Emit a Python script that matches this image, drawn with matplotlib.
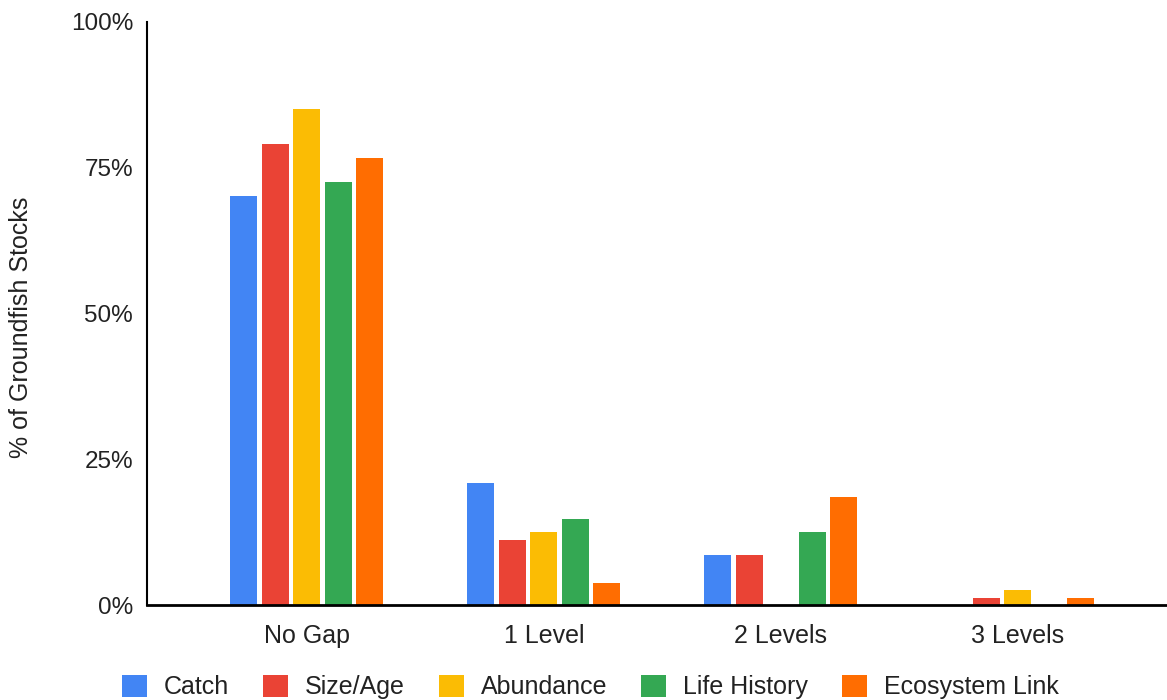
import numpy as np
import matplotlib
matplotlib.use("Agg")
from matplotlib import pyplot as plt
from matplotlib.patches import Patch

plt.rcParams['font.family'] = ['Liberation Sans', 'DejaVu Sans']

# gap categories and share of stocks (%) per data type
categories = ["No Gap", "1 Level", "2 Levels", "3 Levels"]
catch = [70.1, 21.0, 8.5, 0.0]
size_age = [79.0, 11.1, 8.5, 1.2]
abundance = [85.1, 12.5, 0.0, 2.6]
life_history = [72.6, 14.7, 12.5, 0.0]
ecosystem_link = [76.6, 3.8, 18.6, 1.2]

series_names = ["Catch", "Size/Age", "Abundance", "Life History", "Ecosystem Link"]
series = [catch, size_age, abundance, life_history, ecosystem_link]
colors = ["#4285F4", "#EA4335", "#FBBC04", "#34A853", "#FF6D01"]

fig = plt.figure(figsize=(11.67, 7), dpi=100)
ax = fig.add_axes([0.126, 0.1357, 0.874, 0.8329])

x = np.arange(len(categories))
pitch = 0.133
width = 0.114
for i, (vals, col) in enumerate(zip(series, colors)):
    ax.bar(x + (i - 2) * pitch, vals, width, color=col, zorder=2)

ax.set_ylim(0, 100)
ax.set_xlim(-0.675, 3.63)
ax.set_yticks([0, 25, 50, 75, 100])
ax.set_yticklabels(["0%", "25%", "50%", "75%", "100%"])
ax.set_xticks(x)
ax.set_xticklabels(categories)
ax.tick_params(axis='both', length=0, colors='#222222')
ax.tick_params(axis='x', pad=14, labelsize=18)
ax.tick_params(axis='y', pad=10, labelsize=17.5)
for s in ["top", "right"]:
    ax.spines[s].set_visible(False)
ax.spines["left"].set_linewidth(1.5)
ax.spines["bottom"].set_linewidth(2)
ax.spines["bottom"].set_zorder(3)

fig.text(0.018, 0.533, "% of Groundfish Stocks", rotation=90, fontsize=18,
         ha="center", va="center", color='#222222')

handles = [Patch(facecolor=c, edgecolor='none', label=n) for c, n in zip(colors, series_names)]
fig.legend(handles=handles, loc="center", bbox_to_anchor=(0.506, 0.0186), ncol=5,
           frameon=False, fontsize=18, handlelength=1.0, handleheight=1.0,
           handletextpad=0.68, columnspacing=1.36, borderpad=0, labelcolor='#222222')

fig.savefig("out.png", dpi=100)
